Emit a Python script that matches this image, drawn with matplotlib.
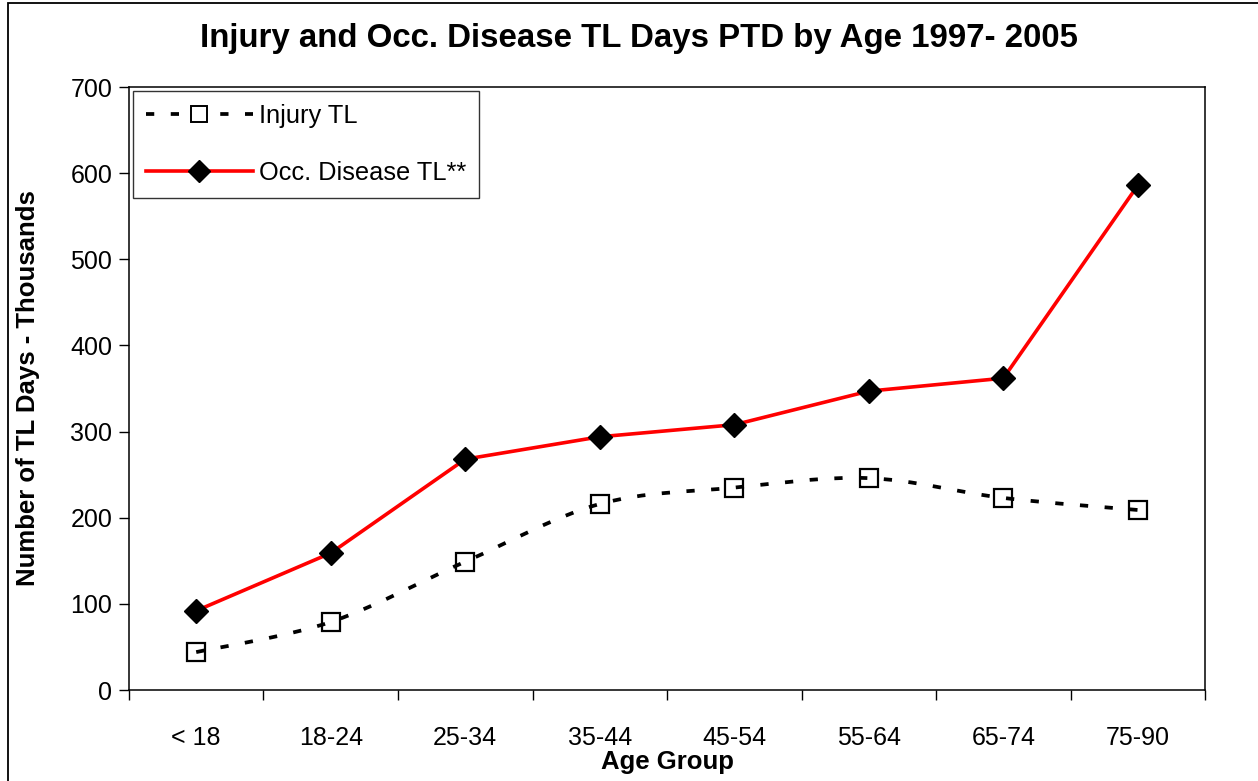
import matplotlib
matplotlib.use("Agg")
import matplotlib.pyplot as plt
from matplotlib.path import Path
from matplotlib.patches import PathPatch, Rectangle
from matplotlib.lines import Line2D

plt.rcParams["font.family"] = ["Liberation Sans", "DejaVu Sans"]

age_groups = ["< 18", "18-24", "25-34", "35-44", "45-54", "55-64", "65-74", "75-90"]
injury_tl = [44, 79, 149, 216, 235, 246, 223, 209]
occ_disease_tl = [92, 159, 268, 294, 308, 347, 362, 586]


def smooth_path(xs, ys):
    # cubic bezier through the points, like the spreadsheet "smoothed line"
    verts = [(xs[0], ys[0])]
    codes = [Path.MOVETO]
    n = len(xs)
    for i in range(n - 1):
        x0, y0 = (xs[i - 1], ys[i - 1]) if i > 0 else (xs[i], ys[i])
        x3, y3 = (xs[i + 2], ys[i + 2]) if i + 2 < n else (xs[i + 1], ys[i + 1])
        c1 = (xs[i] + (xs[i + 1] - x0) / 6, ys[i] + (ys[i + 1] - y0) / 6)
        c2 = (xs[i + 1] - (x3 - xs[i]) / 6, ys[i + 1] - (y3 - ys[i]) / 6)
        verts += [c1, c2, (xs[i + 1], ys[i + 1])]
        codes += [Path.CURVE4] * 3
    return Path(verts, codes)


fig = plt.figure(figsize=(12.58, 7.81), dpi=100)
ax = fig.add_axes([0.1025, 0.1165, 0.8555, 0.772])

x = list(range(len(age_groups)))

dash = (0, (2.2, 4.4))
patch = PathPatch(smooth_path(x, injury_tl), facecolor="none", edgecolor="black",
                  lw=2.7, linestyle=dash, zorder=2)
ax.add_patch(patch)
ax.plot(x, injury_tl, linestyle="none", marker="s", markersize=13.5,
        markerfacecolor="none", markeredgecolor="black", markeredgewidth=1.6, zorder=3)

ax.plot(x, occ_disease_tl, color="red", lw=2.6, marker="D", markersize=12,
        markerfacecolor="black", markeredgecolor="black", zorder=4)

ax.set_xlim(-0.5, len(age_groups) - 0.5)
ax.set_ylim(0, 700)
ax.set_yticks(range(0, 701, 100))
ax.set_xticks(x)
ax.set_xticklabels(age_groups)
ax.set_xticks([i - 0.5 for i in range(len(age_groups) + 1)], minor=True)
ax.tick_params(axis="x", which="major", length=0, pad=26, labelsize=18)
ax.tick_params(axis="x", which="minor", length=7, width=1, direction="out")
ax.tick_params(axis="y", length=7, width=1, direction="out", labelsize=18, pad=5)
for s in ax.spines.values():
    s.set_linewidth(1.1)

ax.set_xlabel("Age Group", fontsize=18.5, fontweight="bold", labelpad=0)
ax.set_ylabel("Number of TL Days - Thousands", fontsize=18.5, fontweight="bold", labelpad=22)
fig.text(0.5 * (200 + 1078) / 1258, 1 - 39 / 781,
         "Injury and Occ. Disease TL Days PTD by Age 1997- 2005",
         ha="center", va="center", fontsize=23.8, fontweight="bold")

handles = [
    Line2D([], [], color="black", lw=2.7, linestyle=(0, (2.2, 4.4)), marker="s",
           markersize=11, markerfacecolor="white", markeredgecolor="black",
           markeredgewidth=1.4),
    Line2D([], [], color="red", lw=2.6, marker="D", markersize=11,
           markerfacecolor="black", markeredgecolor="black"),
]
leg = ax.legend(handles, ["Injury TL", "Occ. Disease TL**"], loc="upper left",
                bbox_to_anchor=(0.004, 0.993), fontsize=18.3, frameon=True,
                fancybox=False, edgecolor="black", handlelength=4.2,
                handletextpad=0.25, labelspacing=1.3, borderpad=0.5,
                borderaxespad=0)
leg.get_frame().set_linewidth(1.0)

fig.patches.append(Rectangle((8 / 1258, -0.05), 1.2, 1 - 3 / 781 + 0.05,
                             transform=fig.transFigure, fill=False,
                             edgecolor="black", lw=1.3))

fig.savefig("out.png", dpi=100)
